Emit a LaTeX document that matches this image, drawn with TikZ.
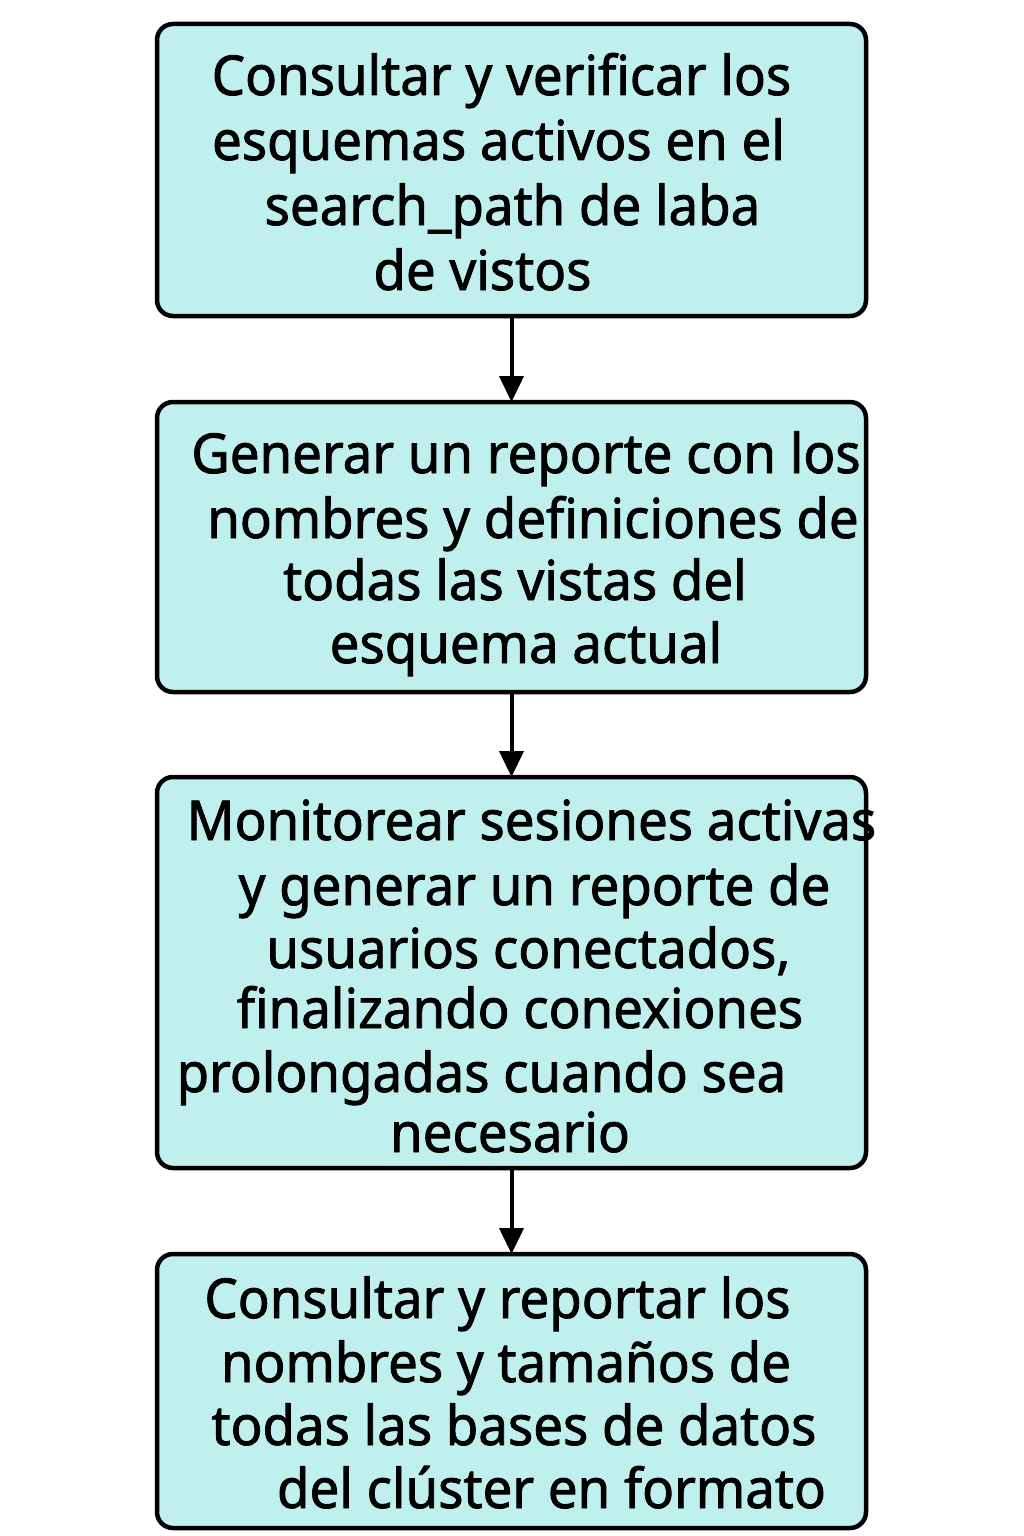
\documentclass[tikz,border=0pt]{standalone}
\usepackage{fontspec}
\setmainfont{Noto Sans}[FakeStretch=0.96,FakeBold=1.5]
\usetikzlibrary{arrows.meta}
\definecolor{boxfill}{HTML}{C0F0EE}
\tikzset{
  stepbox/.style={draw=black, fill=boxfill, line width=4.5pt, rounded corners=16pt, inner sep=0pt, outer sep=0pt, minimum width=709pt},
  txt/.style={anchor=base, inner sep=0pt, font=\fontsize{55}{65}\selectfont},
  arr/.style={line width=4pt, -{Triangle[width=24pt,length=26pt]}}
}
\begin{document}
\begin{tikzpicture}[x=1pt,y=-1pt]
\useasboundingbox (0,0) rectangle (1024,1536);
\node[stepbox, minimum height=292pt] (box1) at (511.5,170) {};
\node[stepbox, minimum height=290pt] (box2) at (511.5,547) {};
\node[stepbox, minimum height=391pt] (box3) at (511.5,972.5) {};
\node[stepbox, minimum height=274pt] (box4) at (511.5,1391) {};
% box 1
\node[txt] (t11) at (501.5,95) {Consultar y verificar los};
\node[txt] (t12) at (498.5,160) {esquemas activos en el};
\node[txt] (t13) at (512.5,225) {search\_path de laba};
\node[txt] (t14) at (482.5,290) {de vistos};
% box 2
\node[txt] (t21) at (526,473) {Generar un reporte con los};
\node[txt] (t22) at (533,538) {nombres y definiciones de};
\node[txt] (t23) at (515,600) {todas las vistas del};
\node[txt] (t24) at (526,663) {esquema actual};
% box 3
\node[txt] (t31) at (531.5,840) {Monitorear sesiones activas};
\node[txt] (t32) at (534.5,905) {y generar un reporte de};
\node[txt] (t33) at (528.5,968) {usuarios conectados,};
\node[txt] (t34) at (520,1028) {finalizando conexiones};
\node[txt] (t35) at (481.5,1092) {prolongadas cuando sea};
\node[txt] (t36) at (510,1152) {necesario};
% box 4
\node[txt] (t41) at (497.5,1318) {Consultar y reportar los};
\node[txt] (t42) at (506,1382) {nombres y tamaños de};
\node[txt] (t43) at (514,1445) {todas las bases de datos};
\node[txt] (t44) at (551.5,1508) {del clúster en formato};
% arrows
\draw[arr] (box1.south) -- (box2.north);
\draw[arr] (box2.south) -- (box3.north);
\draw[arr] (box3.south) -- (box4.north);
\end{tikzpicture}
\end{document}
